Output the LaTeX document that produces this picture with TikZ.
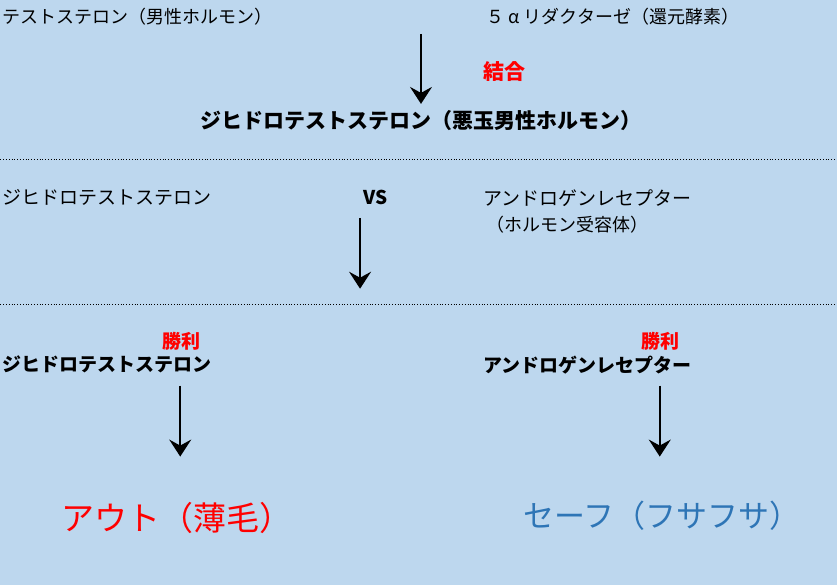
\documentclass[tikz,border=0pt]{standalone}
\usepackage{fontspec}
\setmainfont{Noto Sans CJK JP}
\usetikzlibrary{positioning,arrows.meta}
\definecolor{bgblue}{HTML}{BDD7EE}
\definecolor{safeblue}{HTML}{2E75B6}

\begin{document}
\begin{tikzpicture}[x=1pt,y=-1pt,
    lbl/.style={inner sep=0pt,anchor=west,font=\fontsize{18}{21}\selectfont},
    mid/.style={lbl,font=\fontsize{19}{22}\selectfont},
    hi/.style={lbl,font=\fontsize{19}{22}\selectfont\bfseries},
    top/.style={lbl,font=\fontsize{21}{24}\selectfont\bfseries},
    win/.style={hi,text=red},
    arr/.style={-{Stealth[length=17pt,width=22pt,inset=6pt]},line width=2pt},
    sep/.style={dotted,line width=0.8pt}]
    \fill[bgblue] (0,0) rectangle (837,586);

    \node[lbl] (testo) at (2,17) {テストステロン（男性ホルモン）};
    \node[lbl] (redu) at (486,17) {５\makebox[1.1em][c]{α}リダクターゼ（還元酵素）};
    \node[top,text=red] (bind) at (483,72) {結合};
    \node[top] (dht) at (200,121) {ジヒドロテストステロン（悪玉男性ホルモン）};
    \coordinate (a1s) at (421,34);
    \coordinate (a1e) at (421,104);
    \draw[arr] (a1s) -- (a1e);

    \draw[sep] (0,160) -- (837,160);

    \node[mid] (dht2) at (2,198) {ジヒドロテストステロン};
    \node[hi] (vs) at (363,198) {VS};
    \node[mid] (rec) at (483,198) {アンドロゲンレセプター};
    \node[lbl] (recsub) at (486,225) {（ホルモン受容体）};
    \coordinate (a2s) at (360,218);
    \coordinate (a2e) at (360,289);
    \draw[arr] (a2s) -- (a2e);

    \draw[sep] (0,305) -- (837,305);

    \node[win] (winl) at (162,342) {勝利};
    \node[win] (winr) at (642,342) {勝利};
    \node[hi] (dht3) at (2,365) {ジヒドロテストステロン};
    \node[hi] (rec3) at (483,365) {アンドロゲンレセプター};
    \coordinate (a3s) at (180,386);
    \coordinate (a3e) at (180,457);
    \coordinate (a4s) at (660,386);
    \coordinate (a4e) at (660,457);
    \draw[arr] (a3s) -- (a3e);
    \draw[arr] (a4s) -- (a4e);

    \node[lbl,font=\fontsize{33}{37}\selectfont,text=red] (out) at (61,518) {アウト（薄毛）};
    \node[lbl,font=\fontsize{31}{35}\selectfont,text=safeblue] (safe) at (523,516) {セーフ（フサフサ）};
\end{tikzpicture}
\end{document}
